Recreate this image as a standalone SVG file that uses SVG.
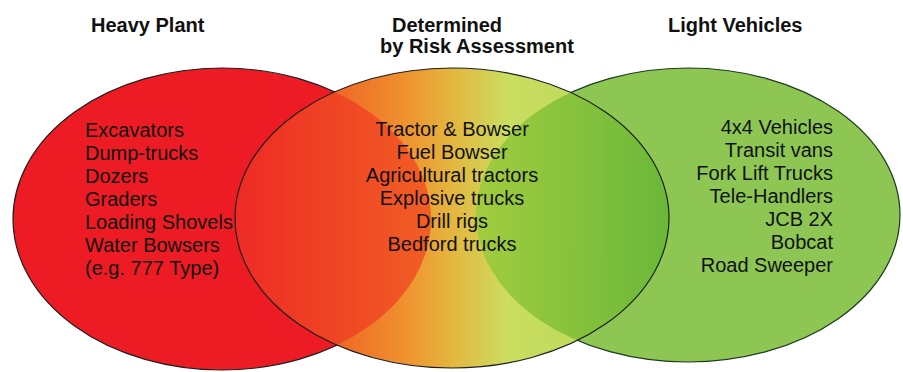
<svg xmlns="http://www.w3.org/2000/svg" width="903" height="372" viewBox="0 0 903 372">
<style>
.t{font-family:"Liberation Sans",Arial,sans-serif;font-size:20px;fill:#111}
.h{font-family:"Liberation Sans",Arial,sans-serif;font-size:20px;font-weight:bold;fill:#111}
.edge{fill:none;stroke:#1e1e1e;stroke-width:1.2}
</style>
<defs>
<linearGradient id="gMid" gradientUnits="userSpaceOnUse" x1="235" y1="0" x2="669" y2="0">
<stop offset="0" stop-color="#EE4424"/>
<stop offset="0.25" stop-color="#EF6C26"/>
<stop offset="0.4" stop-color="#EF9430"/>
<stop offset="0.5" stop-color="#E4B63E"/>
<stop offset="0.63" stop-color="#CADE60"/>
<stop offset="1" stop-color="#B2D456"/>
</linearGradient>
<linearGradient id="gMidL" gradientUnits="userSpaceOnUse" x1="235" y1="0" x2="432" y2="0">
<stop offset="0" stop-color="#EE2A25"/>
<stop offset="1" stop-color="#F15F24"/>
</linearGradient>
<linearGradient id="gMidR" gradientUnits="userSpaceOnUse" x1="476" y1="0" x2="669" y2="0">
<stop offset="0" stop-color="#A2CC3E"/>
<stop offset="1" stop-color="#6AB83A"/>
</linearGradient>
<clipPath id="cL"><ellipse cx="222" cy="219" rx="209" ry="151"/></clipPath>
<clipPath id="cR"><ellipse cx="688" cy="215" rx="212" ry="147"/></clipPath>
</defs>

<g id="heavy-plant">
<ellipse cx="222" cy="219" rx="209" ry="151" fill="#ED1C24" stroke="#1e1e1e" stroke-width="1.2"/>
</g>
<g id="light-vehicles">
<ellipse cx="688" cy="215" rx="212" ry="147" fill="#8DC653" stroke="#1e3a1e" stroke-width="1.2"/>
</g>
<g id="risk-assessment">
<ellipse cx="452" cy="218" rx="217" ry="150" fill="url(#gMid)"/>
<ellipse cx="452" cy="218" rx="217" ry="150" fill="url(#gMidL)" clip-path="url(#cL)"/>
<ellipse cx="452" cy="218" rx="217" ry="150" fill="url(#gMidR)" clip-path="url(#cR)"/>
<ellipse class="edge" cx="452" cy="218" rx="217" ry="150"/>
</g>

<g id="heavy-plant-text">
<text class="h" x="91" y="32">Heavy Plant</text>
<text class="t" x="85" y="137">Excavators</text>
<text class="t" x="85" y="160">Dump-trucks</text>
<text class="t" x="85" y="183">Dozers</text>
<text class="t" x="85" y="206">Graders</text>
<text class="t" x="85" y="229">Loading Shovels</text>
<text class="t" x="85" y="252">Water Bowsers</text>
<text class="t" x="85" y="275">(e.g. 777 Type)</text>
</g>
<g id="risk-assessment-text">
<text class="h" x="392" y="32">Determined</text>
<text class="h" x="380" y="53">by Risk Assessment</text>
<g text-anchor="middle">
<text class="t" x="452" y="136">Tractor &amp; Bowser</text>
<text class="t" x="452" y="159">Fuel Bowser</text>
<text class="t" x="452" y="182">Agricultural tractors</text>
<text class="t" x="452" y="205">Explosive trucks</text>
<text class="t" x="452" y="228">Drill rigs</text>
<text class="t" x="452" y="251">Bedford trucks</text>
</g>
</g>
<g id="light-vehicles-text">
<text class="h" x="668" y="32">Light Vehicles</text>
<g text-anchor="end">
<text class="t" x="833" y="134">4x4 Vehicles</text>
<text class="t" x="833" y="157">Transit vans</text>
<text class="t" x="833" y="180">Fork Lift Trucks</text>
<text class="t" x="833" y="203">Tele-Handlers</text>
<text class="t" x="833" y="226">JCB 2X</text>
<text class="t" x="833" y="249">Bobcat</text>
<text class="t" x="833" y="272">Road Sweeper</text>
</g>
</g>
<g id="connectors"></g>
</svg>
